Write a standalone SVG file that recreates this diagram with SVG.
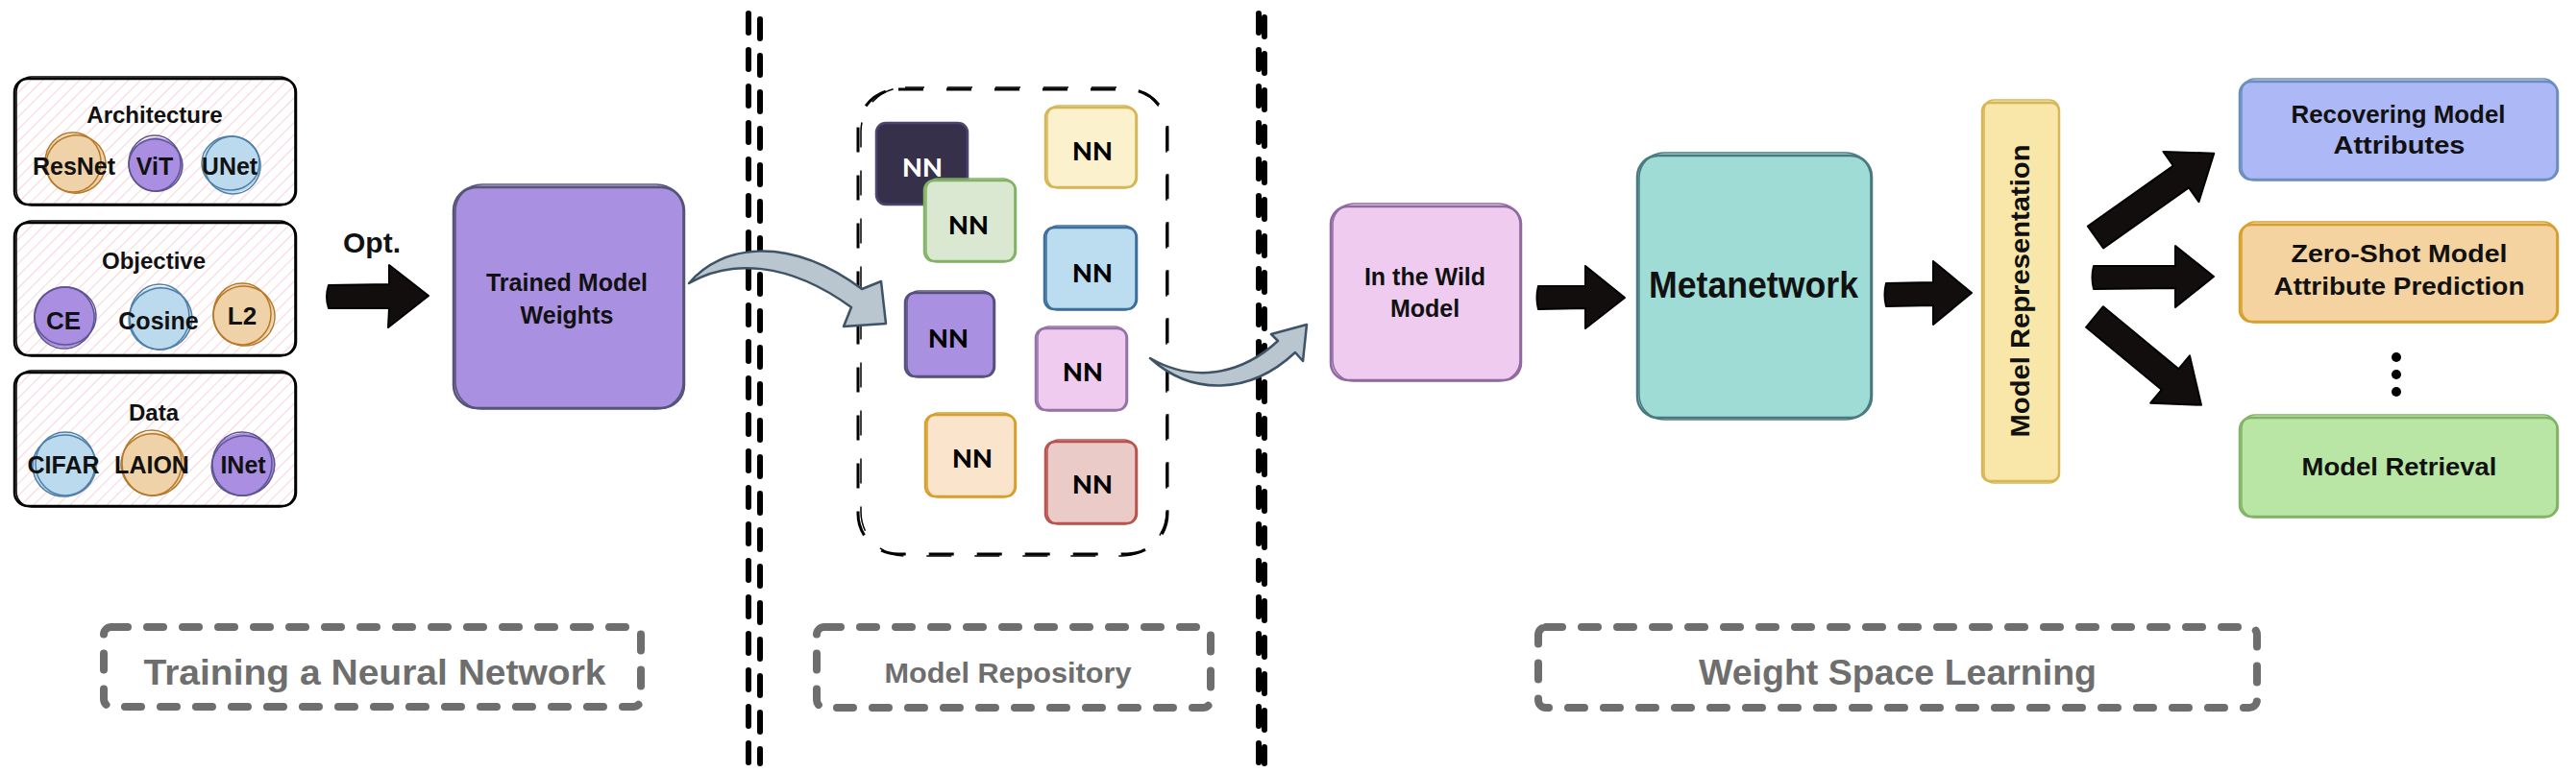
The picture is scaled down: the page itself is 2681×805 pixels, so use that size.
<svg xmlns="http://www.w3.org/2000/svg" width="2681" height="805" viewBox="0 0 2681 805">
<defs>
<pattern id="hatch" width="9" height="9" patternUnits="userSpaceOnUse" patternTransform="rotate(45)"><line x1="0" y1="0" x2="0" y2="9" stroke="#f7d6dc" stroke-width="2.2"/></pattern>
<style>
.t{font-family:"Liberation Sans",Arial,sans-serif;font-weight:bold;fill:#111;text-anchor:middle}
.nn{font-family:Lato,"Open Sans",sans-serif;font-weight:900;font-size:27px;text-anchor:middle;dominant-baseline:central;fill:#000}
.lbl{font-family:"Liberation Sans",Arial,sans-serif;font-weight:bold;fill:#6e6e6e;text-anchor:middle}
.gbox{fill:none;stroke:#6e6e6e;stroke-width:8;stroke-dasharray:17 20;stroke-linecap:round}
.vl{stroke:#000;stroke-width:6;stroke-dasharray:20 18;stroke-linecap:round;fill:none}
.blk{fill:#120e0e;stroke:#000;stroke-width:2;stroke-linejoin:round}
.gar{fill:#b9c5cf;stroke:#3e5366;stroke-width:2.5;stroke-linejoin:round}
.s1{fill:none;stroke-width:2.5}
.s2{fill:none;stroke-width:1.5}
</style>
</defs>
<rect width="2681" height="805" fill="#fff"/>

<!-- section dividers -->
<g id="dividers">
<line class="vl" x1="779" y1="14" x2="779" y2="795"/>
<line class="vl" x1="791" y1="20" x2="791" y2="795"/>
<line class="vl" x1="1310" y1="14" x2="1310" y2="795"/>
<line class="vl" x1="1316" y1="18" x2="1316" y2="795"/>
</g>

<!-- left input boxes -->
<g id="architecture">
<rect x="15" y="82" width="293" height="131" rx="14" fill="url(#hatch)"/>
<rect x="15" y="82" width="293" height="131" rx="14" class="s1" stroke="#000"/>
<rect x="17" y="80" width="290" height="134" rx="16" class="s2" stroke="#000"/>
<circle cx="78" cy="170" r="31" fill="#f0d2a8"/>
<ellipse cx="79" cy="171" rx="31" ry="30" transform="rotate(-15 79 171)" class="s2" stroke="#b5792a"/>
<ellipse cx="76" cy="169" rx="29" ry="31" class="s2" stroke="#b5792a"/>
<circle cx="162" cy="171" r="28" fill="#a98ee2"/>
<ellipse cx="162" cy="172" rx="28" ry="27" transform="rotate(20 162 172)" class="s2" stroke="#5e5491"/>
<ellipse cx="161" cy="170" rx="27" ry="29" class="s2" stroke="#5e5491"/>
<circle cx="241" cy="171" r="30" fill="#bcdaee"/>
<ellipse cx="242" cy="172" rx="29" ry="30" transform="rotate(-10 242 172)" class="s2" stroke="#4f7fa8"/>
<ellipse cx="240" cy="170" rx="30" ry="28" class="s2" stroke="#4f7fa8"/>
<text class="t" x="161" y="128" font-size="24">Architecture</text>
<text class="t" x="77" y="182" font-size="25">ResNet</text>
<text class="t" x="161" y="182" font-size="25">ViT</text>
<text class="t" x="239" y="182" font-size="25">UNet</text>
</g>

<g id="objective">
<rect x="15" y="232" width="293" height="138" rx="14" fill="url(#hatch)"/>
<rect x="15" y="232" width="293" height="138" rx="14" class="s1" stroke="#000"/>
<rect x="17" y="230" width="290" height="141" rx="16" class="s2" stroke="#000"/>
<circle cx="67" cy="330" r="32" fill="#a98ee2"/>
<ellipse cx="67" cy="331" rx="31" ry="32" transform="rotate(15 67 331)" class="s2" stroke="#5e5491"/>
<ellipse cx="68" cy="329" rx="32" ry="30" class="s2" stroke="#5e5491"/>
<circle cx="167" cy="331" r="33" fill="#bcdaee"/>
<ellipse cx="167" cy="332" rx="33" ry="32" transform="rotate(-20 167 332)" class="s2" stroke="#4f7fa8"/>
<ellipse cx="166" cy="330" rx="31" ry="34" class="s2" stroke="#4f7fa8"/>
<circle cx="253" cy="328" r="32" fill="#f0d2a8"/>
<ellipse cx="254" cy="329" rx="32" ry="31" transform="rotate(10 254 329)" class="s2" stroke="#b5792a"/>
<ellipse cx="252" cy="327" rx="30" ry="32" class="s2" stroke="#b5792a"/>
<text class="t" x="160" y="280" font-size="24">Objective</text>
<text class="t" x="66" y="343" font-size="26">CE</text>
<text class="t" x="165" y="343" font-size="25">Cosine</text>
<text class="t" x="252" y="338" font-size="26">L2</text>
</g>

<g id="data">
<rect x="15" y="388" width="293" height="139" rx="14" fill="url(#hatch)"/>
<rect x="15" y="388" width="293" height="139" rx="14" class="s1" stroke="#000"/>
<rect x="17" y="386" width="290" height="142" rx="16" class="s2" stroke="#000"/>
<circle cx="67" cy="484" r="33" fill="#bcdaee"/>
<ellipse cx="67" cy="485" rx="33" ry="32" transform="rotate(-10 67 485)" class="s2" stroke="#4f7fa8"/>
<ellipse cx="68" cy="483" rx="31" ry="33" class="s2" stroke="#4f7fa8"/>
<circle cx="159" cy="483" r="33" fill="#f0d2a8"/>
<ellipse cx="159" cy="484" rx="33" ry="32" transform="rotate(15 159 484)" class="s2" stroke="#b5792a"/>
<ellipse cx="158" cy="482" rx="31" ry="34" class="s2" stroke="#b5792a"/>
<circle cx="253" cy="484" r="33" fill="#a98ee2"/>
<ellipse cx="253" cy="485" rx="33" ry="31" transform="rotate(-20 253 485)" class="s2" stroke="#5e5491"/>
<ellipse cx="252" cy="483" rx="31" ry="33" class="s2" stroke="#5e5491"/>
<text class="t" x="160" y="438" font-size="24">Data</text>
<text class="t" x="66" y="493" font-size="25">CIFAR</text>
<text class="t" x="158" y="493" font-size="25">LAION</text>
<text class="t" x="253" y="493" font-size="25">INet</text>
</g>

<g id="trained-weights">
<rect x="472" y="193" width="240" height="232" rx="24" fill="#a990e0"/>
<rect x="472" y="195" width="240" height="230" rx="24" class="s1" stroke="#555577"/>
<rect x="474" y="192" width="237" height="234" rx="28" class="s2" stroke="#555577"/>
<text class="t" x="590" y="303" font-size="25">Trained Model</text>
<text class="t" x="590" y="337" font-size="25">Weights</text>
</g>

<g id="model-repository">
<rect x="893" y="93" width="322" height="484" rx="42" fill="none" stroke="#000" stroke-width="3" stroke-dasharray="26 24"/>
<rect x="896" y="91" width="318" height="488" rx="46" fill="none" stroke="#000" stroke-width="1.5" stroke-dasharray="26 24" stroke-dashoffset="6"/>
<g id="nn-dark">
<rect x="912" y="128" width="95" height="85" rx="10" fill="#37304a"/>
<rect x="912" y="128" width="95" height="85" rx="10" class="s1" stroke="#4b4570"/>
<text class="nn" x="960" y="173" style="fill:#fff">NN</text>
</g>
<g id="nn-yellow">
<rect x="1088" y="112" width="95" height="83" rx="10" fill="#fbf1cc"/>
<rect x="1088" y="112" width="95" height="83" rx="10" class="s1" stroke="#d6b656"/>
<rect x="1090" y="110" width="92" height="86" rx="12" class="s2" stroke="#d6b656"/>
<text class="nn" x="1137" y="156">NN</text>
</g>
<g id="nn-green">
<rect x="962" y="188" width="95" height="84" rx="10" fill="#dae8d2"/>
<rect x="962" y="188" width="95" height="84" rx="10" class="s1" stroke="#82b366"/>
<rect x="964" y="186" width="92" height="87" rx="12" class="s2" stroke="#82b366"/>
<text class="nn" x="1008" y="233">NN</text>
</g>
<g id="nn-blue">
<rect x="1087" y="237" width="96" height="85" rx="10" fill="#bcdcef"/>
<rect x="1087" y="237" width="96" height="85" rx="10" class="s1" stroke="#3e6f9a"/>
<rect x="1089" y="235" width="93" height="88" rx="12" class="s2" stroke="#3e6f9a"/>
<text class="nn" x="1137" y="283">NN</text>
</g>
<g id="nn-purple">
<rect x="942" y="305" width="93" height="87" rx="10" fill="#a990e0"/>
<rect x="942" y="305" width="93" height="87" rx="10" class="s1" stroke="#56517e"/>
<rect x="944" y="303" width="90" height="90" rx="12" class="s2" stroke="#56517e"/>
<text class="nn" x="987" y="351">NN</text>
</g>
<g id="nn-pink">
<rect x="1078" y="342" width="95" height="85" rx="10" fill="#eecbef"/>
<rect x="1078" y="342" width="95" height="85" rx="10" class="s1" stroke="#9673a6"/>
<rect x="1080" y="340" width="92" height="88" rx="12" class="s2" stroke="#9673a6"/>
<text class="nn" x="1127" y="386">NN</text>
</g>
<g id="nn-peach">
<rect x="963" y="432" width="94" height="85" rx="10" fill="#fae4cb"/>
<rect x="963" y="432" width="94" height="85" rx="10" class="s1" stroke="#d6a02c"/>
<rect x="965" y="430" width="91" height="88" rx="12" class="s2" stroke="#d6a02c"/>
<text class="nn" x="1012" y="476">NN</text>
</g>
<g id="nn-rose">
<rect x="1088" y="460" width="95" height="85" rx="10" fill="#eacbc8"/>
<rect x="1088" y="460" width="95" height="85" rx="10" class="s1" stroke="#b85450"/>
<rect x="1090" y="458" width="92" height="88" rx="12" class="s2" stroke="#b85450"/>
<text class="nn" x="1137" y="503">NN</text>
</g>
</g>

<g id="in-the-wild">
<rect x="1385" y="213" width="198" height="183" rx="18" fill="#eecbef"/>
<rect x="1385" y="215" width="198" height="181" rx="18" class="s1" stroke="#8e6aa0"/>
<rect x="1387" y="212" width="195" height="185" rx="22" class="s2" stroke="#8e6aa0"/>
<text class="t" x="1483" y="297" font-size="25">In the Wild</text>
<text class="t" x="1483" y="330" font-size="25">Model</text>
</g>

<g id="metanetwork">
<rect x="1704" y="160" width="244" height="276" rx="22" fill="#9fdcd6"/>
<rect x="1704" y="162" width="244" height="273" rx="22" class="s1" stroke="#4a7a80"/>
<rect x="1706" y="159" width="241" height="278" rx="26" class="s2" stroke="#4a7a80"/>
<text class="t" x="1825" y="310" font-size="38" textLength="218" lengthAdjust="spacingAndGlyphs">Metanetwork</text>
</g>

<g id="model-representation">
<rect x="2063" y="105" width="80" height="397" rx="8" fill="#f9e6a9"/>
<rect x="2063" y="107" width="80" height="394" rx="8" class="s1" stroke="#d6b656"/>
<rect x="2065" y="104" width="78" height="399" rx="10" class="s2" stroke="#d6b656"/>
<text class="t" x="0" y="0" font-size="27" transform="translate(2112 303) rotate(-90)" textLength="305" lengthAdjust="spacingAndGlyphs">Model Representation</text>
</g>

<g id="recovering">
<rect x="2331" y="83" width="331" height="104" rx="12" fill="#adb8f6"/>
<rect x="2331" y="85" width="331" height="102" rx="12" class="s1" stroke="#6c8ebf"/>
<rect x="2333" y="82" width="328" height="106" rx="14" class="s2" stroke="#6c8ebf"/>
<text class="t" x="2496" y="128" font-size="26" textLength="223" lengthAdjust="spacingAndGlyphs">Recovering Model</text>
<text class="t" x="2497" y="160" font-size="26" textLength="137" lengthAdjust="spacingAndGlyphs">Attributes</text>
</g>

<g id="zero-shot">
<rect x="2331" y="232" width="331" height="103" rx="12" fill="#f4d3a0"/>
<rect x="2331" y="234" width="331" height="101" rx="12" class="s1" stroke="#d6a02c"/>
<rect x="2333" y="231" width="328" height="105" rx="14" class="s2" stroke="#d6a02c"/>
<text class="t" x="2497" y="273" font-size="26" textLength="225" lengthAdjust="spacingAndGlyphs">Zero-Shot Model</text>
<text class="t" x="2497" y="307" font-size="26" textLength="261" lengthAdjust="spacingAndGlyphs">Attribute Prediction</text>
</g>

<g id="ellipsis">
<circle cx="2494" cy="372" r="5" fill="#000"/>
<circle cx="2494" cy="390" r="5" fill="#000"/>
<circle cx="2494" cy="408" r="5" fill="#000"/>
</g>

<g id="model-retrieval">
<rect x="2331" y="433" width="331" height="105" rx="12" fill="#b9e6a4"/>
<rect x="2331" y="435" width="331" height="103" rx="12" class="s1" stroke="#82b366"/>
<rect x="2333" y="432" width="328" height="107" rx="14" class="s2" stroke="#82b366"/>
<text class="t" x="2497" y="495" font-size="26" textLength="203" lengthAdjust="spacingAndGlyphs">Model Retrieval</text>
</g>

<g id="labels">
<g id="label-training">
<rect class="gbox" x="108" y="653" width="559" height="83" rx="8"/>
<text class="lbl" x="390" y="713" font-size="37" textLength="481" lengthAdjust="spacingAndGlyphs">Training a Neural Network</text>
</g>
<g id="label-repository">
<rect class="gbox" x="850" y="653" width="410" height="84" rx="8"/>
<text class="lbl" x="1049" y="711" font-size="30" textLength="257" lengthAdjust="spacingAndGlyphs">Model Repository</text>
</g>
<g id="label-wsl">
<rect class="gbox" x="1601" y="653" width="748" height="84" rx="8"/>
<text class="lbl" x="1975" y="713" font-size="37" textLength="414" lengthAdjust="spacingAndGlyphs">Weight Space Learning</text>
</g>
</g>

<g id="connectors">
<text class="t" x="387" y="263" font-size="30">Opt.</text>
<path class="blk" d="M342,297 Q338,309 342,321 L405,321 L404,341 L446,308 L405,276 L405,296 Z"/>
<path class="gar" d="M717,295 C750,255 820,244 897,301 L917,293 L922,337 L878,340 L886,320 C820,272 760,270 717,295 Z"/>
<path class="gar" d="M1197,373 C1240,398 1290,392 1330,355 L1323,348 L1360,338 L1356,376 L1348,367 C1300,412 1240,412 1197,373 Z"/>
<path class="blk" d="M1601,298 Q1598,310 1601,322 L1650,321 L1650,342 L1691,310 L1650,277 L1650,298 Z"/>
<path class="blk" d="M1963,295 Q1960,307 1963,319 L2012,318 L2012,338 L2052,305 L2012,272 L2012,294 Z"/>
<path class="blk" d="M0,-14 L109,-14 L109,-32 L151,0 L109,32 L109,14 L0,14 Z" transform="translate(2181 247) rotate(-35.3)"/>
<path class="blk" d="M2179,277 Q2176,289 2179,301 L2264,300 L2264,320 L2304,288 L2264,256 L2264,277 Z"/>
<path class="blk" d="M0,-14 L102,-14 L102,-32 L144,0 L102,32 L102,14 L0,14 Z" transform="translate(2180 330) rotate(39.6)"/>
</g>
</svg>
